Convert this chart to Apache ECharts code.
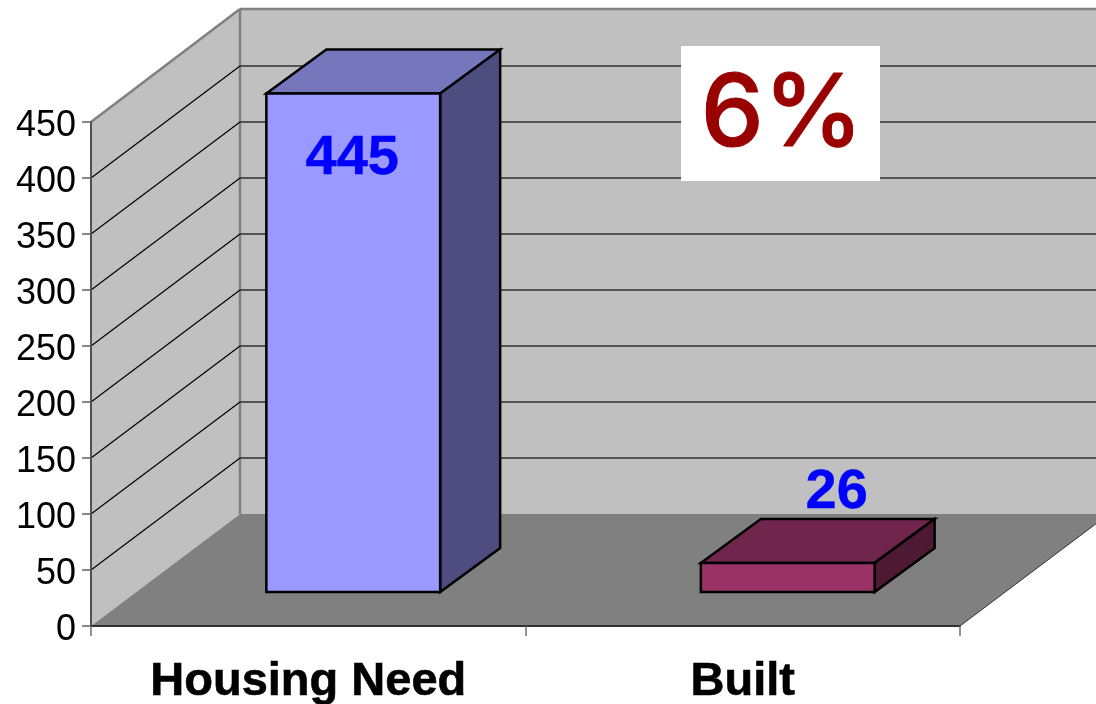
<!DOCTYPE html>
<html>
<head>
<meta charset="utf-8">
<style>html,body{margin:0;padding:0;background:#fff}#chart{width:1096px;height:704px}</style>
<script src="https://cdn.jsdelivr.net/npm/echarts@6/dist/echarts.min.js"></script>
</head>
<body>
<div id="chart"></div>
<script>
const categories = ['Housing Need', 'Built'];
const values = [445, 26];
const gridTicks = [50, 100, 150, 200, 250, 300, 350, 400];
const shareLabel = '6%';

// Oblique projection: how far the back wall and the bars sit behind the front plane.
const WALL = [149, -112];
const BAR_SHIFT = [45, -34];
const BAR_DEPTH = [60, -44];
const BAR_RATIO = 0.4;
const barFaces = [
  { front: '#9999ff', top: '#7676bd', side: '#4d4d80' },
  { front: '#993366', top: '#70264c', side: '#4d1933' }
];
// Value label placement relative to the top of each bar's front face.
const labelOffsets = [[-1, 65], [49, -70]];

const poly = (points, fill, stroke, lineWidth) => ({
  type: 'polygon',
  shape: { points },
  style: { fill, stroke: stroke || 'none', lineWidth: lineWidth || 0, lineJoin: 'miter' }
});
const seg = (a, b, stroke, lineWidth) => ({
  type: 'line',
  shape: { x1: a[0], y1: a[1], x2: b[0], y2: b[1] },
  style: { stroke, lineWidth }
});

// Walls and floor of the box, derived from the plot rectangle.
function renderBox(params) {
  const c = params.coordSys;
  const l = c.x, r = c.x + c.width, t = c.y, b = c.y + c.height;
  const bl = [l + WALL[0], b + WALL[1]], tl = [l + WALL[0], t + WALL[1] - 1];
  const br = [r + WALL[0], b + WALL[1]], tr = [r + WALL[0], t + WALL[1] - 1];
  return {
    type: 'group',
    children: [
      poly([bl, tl, tr, br], '#c0c0c0'),
      poly([[l, b], [l, t], tl, bl], '#c0c0c0'),
      poly([[l, b], [r, b], br, bl], '#808080'),
      seg([l, t], tl, '#808080', 2.5),
      seg(tl, tr, '#808080', 2.5),
      seg(tl, bl, '#808080', 2.5),
      seg([r, b], br, '#333333', 1)
    ]
  };
}

// One wrap-around gridline: across the side wall, then along the back wall.
function renderGridline(params, api) {
  const c = params.coordSys;
  const y = api.coord([0, api.value(0)])[1];
  const corner = [c.x + WALL[0], y + WALL[1]];
  return {
    type: 'group',
    children: [
      seg([c.x, y], corner, '#000000', 1.2),
      seg(corner, [c.x + c.width + WALL[0], y + WALL[1]], '#303030', 1.5)
    ]
  };
}

function renderBar(params, api) {
  const i = api.value(0), v = api.value(1);
  const w = api.size([1, 0])[0] * BAR_RATIO;
  const base = api.coord([i, 0]);
  const top = api.coord([i, v]);
  const x0 = base[0] - w / 2 + BAR_SHIFT[0], x1 = x0 + w;
  const y0 = base[1] + BAR_SHIFT[1], y1 = top[1] + BAR_SHIFT[1];
  const dx = BAR_DEPTH[0], dy = BAR_DEPTH[1];
  const f = barFaces[i];
  return {
    type: 'group',
    children: [
      poly([[x0, y1], [x1, y1], [x1 + dx, y1 + dy], [x0 + dx, y1 + dy]], f.top, '#000', 2.5),
      poly([[x1, y0], [x1, y1], [x1 + dx, y1 + dy], [x1 + dx, y0 + dy]], f.side, '#000', 2.5),
      poly([[x0, y0], [x1, y0], [x1, y1], [x0, y1]], f.front, '#000', 2.5),
      {
        type: 'text',
        x: (x0 + x1) / 2 + labelOffsets[i][0],
        y: y1 + labelOffsets[i][1],
        style: {
          text: String(v),
          fill: '#0000ff',
          stroke: '#0000ff',
          lineWidth: 0.4,
          font: 'bold 56px "Liberation Sans", Arial, sans-serif',
          align: 'center',
          verticalAlign: 'middle'
        }
      }
    ]
  };
}

const chart = echarts.init(document.getElementById('chart'), null, { renderer: 'canvas' });
chart.setOption({
  animation: false,
  backgroundColor: '#ffffff',
  textStyle: { fontFamily: '"Liberation Sans", Arial, sans-serif' },
  grid: { left: 91, right: 136, top: 122, bottom: 78, outerBoundsMode: 'none' },
  xAxis: {
    type: 'category',
    data: categories,
    z: 5,
    axisLine: { show: true, lineStyle: { color: '#303030', width: 2 } },
    axisTick: { show: true, alignWithLabel: false, length: 10, lineStyle: { color: '#707070', width: 1.5 } },
    axisLabel: {
      color: '#000', fontSize: 47, fontWeight: 'bold', margin: 33, interval: 0,
      textBorderColor: '#000', textBorderWidth: 0.6
    }
  },
  yAxis: {
    type: 'value',
    min: 0,
    max: 450,
    interval: 50,
    z: 5,
    axisLine: { show: true, lineStyle: { color: '#505050', width: 2 } },
    axisTick: { show: true, length: 9, lineStyle: { color: '#606060', width: 1.5 } },
    axisLabel: { color: '#000', fontSize: 36, margin: 15, verticalAlign: 'top', lineHeight: 8 },
    splitLine: { show: false }
  },
  series: [
    { type: 'custom', z: 1, silent: true, clip: false, data: [0], renderItem: renderBox },
    {
      type: 'custom', z: 2, silent: true, clip: false,
      data: gridTicks.map(v => [v]),
      encode: { y: 0 },
      renderItem: renderGridline
    },
    {
      type: 'custom', z: 3, silent: true, clip: false,
      data: values.map((v, i) => [i, v]),
      encode: { x: 0, y: 1 },
      renderItem: renderBar
    }
  ],
  graphic: [
    { type: 'rect', z: 10, shape: { x: 681, y: 46, width: 199, height: 135 }, style: { fill: '#ffffff' } },
    {
      type: 'text', z: 11, x: 782, y: 116,
      style: {
        text: shareLabel,
        fill: '#990000',
        stroke: '#990000',
        lineWidth: 1,
        font: '500 100px Inter, "DejaVu Sans", sans-serif',
        align: 'center',
        verticalAlign: 'middle'
      }
    }
  ]
});
</script>
</body>
</html>
